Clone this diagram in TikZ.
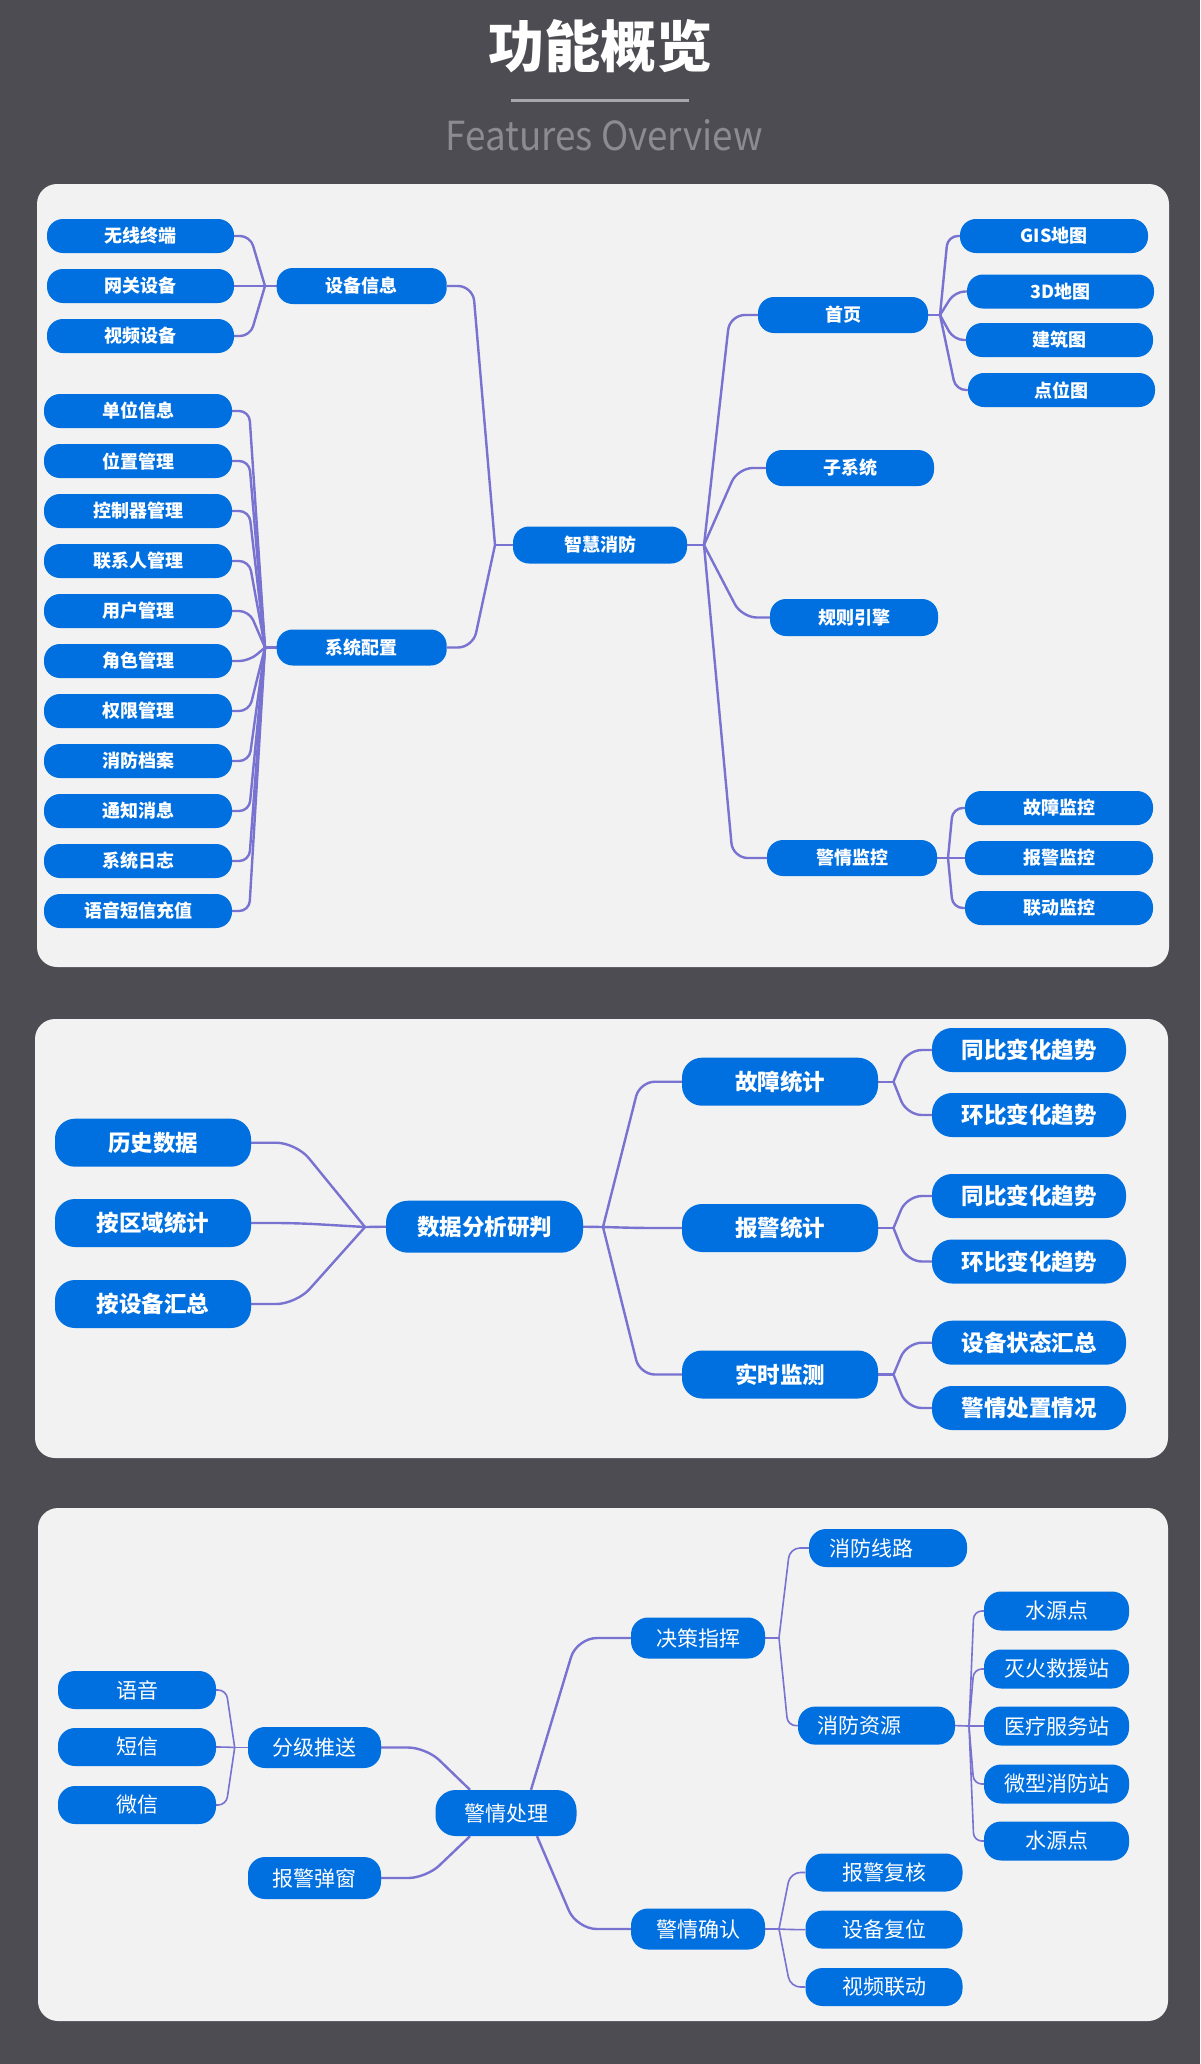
\documentclass[tikz,border=0pt]{standalone}
\usepackage{fontspec}
\setmainfont{Noto Sans CJK SC}
\usetikzlibrary{calc}
\definecolor{bgc}{HTML}{4D4C52}
\definecolor{panelc}{HTML}{F2F2F2}
\definecolor{nodec}{HTML}{0070E0}
\definecolor{linec}{HTML}{7872D0}
\definecolor{tline}{HTML}{A8A7AD}
\definecolor{subc}{HTML}{8C8B91}
\pgfdeclarelayer{back}
\pgfdeclarelayer{mid}
\pgfsetlayers{back,mid,main}
\begin{document}
\begin{tikzpicture}[x=1pt,y=-1pt,
  box/.style={fill=nodec,text=white,inner sep=0pt,anchor=center},
  pa/.style={box,font=\bfseries\fontsize{18pt}{20pt}\selectfont,minimum height=34pt,rounded corners=16pt,minimum width=#1},
  pb/.style={box,font=\bfseries\fontsize{22.5pt}{24pt}\selectfont,minimum height=48pt,rounded corners=20pt,minimum width=#1},
  pc/.style={box,font=\fontsize{21pt}{23pt}\selectfont,minimum height=39pt,rounded corners=17pt,minimum width=#1},
  conn/.style={draw=linec,line width=2.4pt,rounded corners=#1},
  conn/.default=10pt,
  thin/.style={line width=1.6pt},
  panel/.style={fill=panelc,rounded corners=20pt}
]
\useasboundingbox (0,0) rectangle (1200,2064);
\begin{pgfonlayer}{back}
\fill[bgc] (0,0) rectangle (1200,2064);
\path[panel] (37,184) rectangle (1169,967);
\path[panel] (35,1019) rectangle (1168,1458);
\path[panel] (38,1508) rectangle (1168,2021);
\end{pgfonlayer}

% title
\node[text=white,font=\bfseries\fontsize{56pt}{60pt}\selectfont,anchor=base,inner sep=0pt] (title) at (600,67) {功能概览};
\coordinate (tl1) at (511,100);
\coordinate (tl2) at (689,100);
\draw[tline,line width=3pt] (tl1) -- (tl2);
\node[text=subc,font=\fontsize{40pt}{44pt}\selectfont,anchor=base,inner sep=0pt] (sub) at (604,150) {\scalebox{0.92}[1]{Features Overview}};

% ---------- panel 1 ----------
\node[pa=187pt] (a1) at (140.5,236) {无线终端};
\node[pa=187pt] (a2) at (140.5,286) {网关设备};
\node[pa=187pt] (a3) at (140.5,336) {视频设备};
\node[pa=170pt,minimum height=36pt] (sb) at (361.7,286) {设备信息};
\node[pa=170pt,minimum height=36pt] (sc) at (361.7,647.5) {系统配置};
\node[pa=188pt] (b1) at (138,411) {单位信息};
\node[pa=188pt] (b2) at (138,461) {位置管理};
\node[pa=188pt] (b3) at (138,511) {控制器管理};
\node[pa=188pt] (b4) at (138,561) {联系人管理};
\node[pa=188pt] (b5) at (138,611) {用户管理};
\node[pa=188pt] (b6) at (138,661) {角色管理};
\node[pa=188pt] (b7) at (138,711) {权限管理};
\node[pa=188pt] (b8) at (138,761) {消防档案};
\node[pa=188pt] (b9) at (138,811) {通知消息};
\node[pa=188pt] (b10) at (138,861) {系统日志};
\node[pa=188pt] (b11) at (138,911) {语音短信充值};
\node[pa=174pt,minimum height=37pt] (root1) at (600,545) {智慧消防};
\node[pa=170pt,minimum height=36pt] (home) at (843,315) {首页};
\node[pa=188pt] (c1) at (1054,236) {GIS地图};
\node[pa=187pt] (c2) at (1060.5,291.5) {3D地图};
\node[pa=187pt] (c3) at (1059.5,340) {建筑图};
\node[pa=187pt] (c4) at (1061.5,390) {点位图};
\node[pa=168pt,minimum height=36pt] (subsys) at (850,468) {子系统};
\node[pa=168pt,minimum height=37pt] (rule) at (854,617.5) {规则引擎};
\node[pa=170pt,minimum height=36pt] (jqjk) at (852,858) {警情监控};
\node[pa=188pt] (d1) at (1059,808) {故障监控};
\node[pa=188pt] (d2) at (1059,858) {报警监控};
\node[pa=188pt] (d3) at (1059,908) {联动监控};

\coordinate (J1) at (265,286);
\coordinate (J2) at (265,647.5);
\coordinate (JRL) at (495,545);
\coordinate (JRR) at (704,545);
\coordinate (JH) at (940,315);
\coordinate (JJ) at (948,858);

% ---------- panel 2 ----------
\node[pb=196pt] (h1) at (153,1142.7) {历史数据};
\node[pb=196pt] (h2) at (153,1223) {按区域统计};
\node[pb=196pt] (h3) at (153,1304) {按设备汇总};
\node[pb=197pt,minimum height=52pt,rounded corners=22pt] (root2) at (484.5,1226.7) {数据分析研判};
\node[pb=196pt] (m1) at (780,1081.7) {故障统计};
\node[pb=196pt] (m2) at (780,1228) {报警统计};
\node[pb=196pt] (m3) at (780,1374.5) {实时监测};
\node[pb=194pt,minimum height=44pt] (l1) at (1029,1050) {同比变化趋势};
\node[pb=194pt,minimum height=44pt] (l2) at (1029,1115) {环比变化趋势};
\node[pb=194pt,minimum height=44pt] (l3) at (1029,1196) {同比变化趋势};
\node[pb=194pt,minimum height=44pt] (l4) at (1029,1261.5) {环比变化趋势};
\node[pb=194pt,minimum height=44pt] (l5) at (1029,1342.7) {设备状态汇总};
\node[pb=194pt,minimum height=44pt] (l6) at (1029,1408) {警情处置情况};

\coordinate (K1) at (365,1227);
\coordinate (K2) at (603,1227);
\coordinate (K3) at (893.5,1081.7);
\coordinate (K4) at (893.5,1228);
\coordinate (K5) at (893.5,1374.5);

% ---------- panel 3 ----------
\node[pc=158pt,minimum height=38pt] (y1) at (137,1690) {语音};
\node[pc=158pt,minimum height=38pt] (y2) at (137,1747) {短信};
\node[pc=158pt,minimum height=38pt] (y3) at (137,1805) {微信};
\node[pc=133pt,minimum height=41pt] (fj) at (314.5,1747.5) {分级推送};
\node[pc=133pt,minimum height=42pt] (bj) at (314.5,1878) {报警弹窗};
\node[pc=141pt,minimum height=46pt,rounded corners=20pt] (root3) at (506,1813) {警情处理};
\node[pc=134pt,minimum height=41pt] (jc) at (698,1638) {决策指挥};
\node[pc=158pt,minimum height=38pt] (xl) at (888,1548) {消防线路\hspace*{34pt}};
\node[pc=157pt,minimum height=38pt] (xz) at (876.5,1725.6) {消防资源\hspace*{34pt}};
\node[pc=145pt] (r1) at (1056.5,1611) {水源点};
\node[pc=145pt] (r2) at (1056.5,1669) {灭火救援站};
\node[pc=145pt] (r3) at (1056.5,1726) {医疗服务站};
\node[pc=145pt] (r4) at (1056.5,1784) {微型消防站};
\node[pc=145pt] (r5) at (1056.5,1841) {水源点};
\node[pc=134pt,minimum height=41pt] (jq) at (698,1929) {警情确认};
\node[pc=157pt,minimum height=38pt] (q1) at (884,1872.5) {报警复核};
\node[pc=157pt,minimum height=38pt] (q2) at (884,1929.6) {设备复位};
\node[pc=157pt,minimum height=38pt] (q3) at (884,1987) {视频联动};

\coordinate (L1) at (234.7,1747.5);
\coordinate (L2) at (779,1638);
\coordinate (L3) at (969,1726);
\coordinate (L4) at (779,1929);

\begin{pgfonlayer}{mid}
% panel 1
\draw[conn] (sb.west) -- (J1);
\foreach \n in {a1,a2,a3} \draw[conn] (J1) -- ($(\n.east)+(16,0)$) -- (\n.east);
\draw[conn] (sc.west) -- (J2);
\foreach \i in {1,...,11} \draw[conn] (J2) -- ($(b\i.east)+(17,0)$) -- (b\i.east);
\draw[conn] (root1.west) -- (JRL);
\draw[conn=15pt] (JRL) -- ($(sb.east)+(26,0)$) -- (sb.east);
\draw[conn=15pt] (JRL) -- ($(sc.east)+(26,0)$) -- (sc.east);
\draw[conn] (root1.east) -- (JRR);
\draw[conn=15pt] (JRR) -- ($(home.west)+(-28,0)$) -- (home.west);
\draw[conn=15pt] (JRR) -- ($(subsys.west)+(-28,0)$) -- (subsys.west);
\draw[conn=15pt] (JRR) -- ($(rule.west)+(-28,0)$) -- (rule.west);
\draw[conn=15pt] (JRR) -- ($(jqjk.west)+(-34,0)$) -- (jqjk.west);
\draw[conn] (home.east) -- (JH);
\foreach \n in {c1,c2,c3,c4} \draw[conn] (JH) -- ($(\n.west)+(-12,0)$) -- (\n.west);
\draw[conn] (jqjk.east) -- (JJ);
\foreach \n in {d1,d2,d3} \draw[conn] (JJ) -- ($(\n.west)+(-12,0)$) -- (\n.west);
% panel 2
\draw[conn] (root2.west) -- (K1);
\foreach \n in {h1,h2,h3} \draw[conn=20pt] (K1) -- ($(\n.east)+(45,0)$) -- (\n.east);
\draw[conn] (root2.east) -- (K2);
\foreach \n in {m1,m2,m3} \draw[conn=15pt] (K2) -- ($(\n.west)+(-42,0)$) -- (\n.west);
\draw[conn] (m1.east) -- (K3);
\draw[conn] (m2.east) -- (K4);
\draw[conn] (m3.east) -- (K5);
\foreach \n in {l1,l2} \draw[conn=15pt] (K3) -- ($(\n.west)+(-25,0)$) -- (\n.west);
\foreach \n in {l3,l4} \draw[conn=15pt] (K4) -- ($(\n.west)+(-25,0)$) -- (\n.west);
\foreach \n in {l5,l6} \draw[conn=15pt] (K5) -- ($(\n.west)+(-25,0)$) -- (\n.west);
% panel 3
\draw[conn,thin] (fj.west) -- (L1);
\foreach \n in {y1,y2,y3} \draw[conn=8pt,thin] (L1) -- ($(\n.east)+(10,0)$) -- (\n.east);
\draw[conn=18pt] ($(root3.north)+(-36,0)$) -- ($(fj.east)+(45,0)$) -- (fj.east);
\draw[conn=18pt] ($(root3.south)+(-36,0)$) -- ($(bj.east)+(45,0)$) -- (bj.east);
\draw[conn=20pt] ($(root3.north)+(25,0)$) -- ($(jc.west)+(-54,0)$) -- (jc.west);
\draw[conn=20pt] ($(root3.south)+(31,0)$) -- ($(jq.west)+(-54,0)$) -- (jq.west);
\draw[conn,thin] (jc.east) -- (L2);
\draw[conn=10pt,thin] (L2) -- ($(xl.west)+(-19,0)$) -- (xl.west);
\draw[conn=8pt,thin] (L2) -- ($(xz.west)+(-10,0)$) -- (xz.west);
\draw[conn,thin] (xz.east) -- (L3);
\foreach \n in {r1,r2,r3,r4,r5} \draw[conn=8pt,thin] (L3) -- ($(\n.west)+(-10,0)$) -- (\n.west);
\draw[conn,thin] (jq.east) -- (L4);
\foreach \n in {q1,q2,q3} \draw[conn=10pt,thin] (L4) -- ($(\n.west)+(-15,0)$) -- (\n.west);
\end{pgfonlayer}
\end{tikzpicture}
\end{document}
